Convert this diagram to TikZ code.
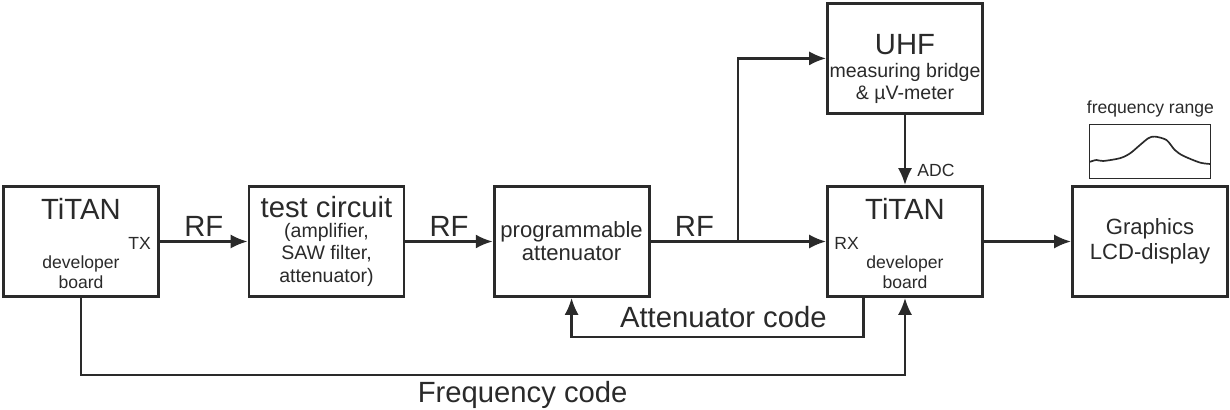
\documentclass[tikz,border=0pt]{standalone}
\usepackage{fontspec}
\setmainfont{Liberation Sans}
\usetikzlibrary{arrows.meta, positioning, calc}
\definecolor{Ink}{HTML}{2A2A2A}

\begin{document}
\begin{tikzpicture}[
  font=\fontsize{15.7}{16.3}\selectfont, text=Ink,
  block/.style={draw=Ink, line width=2.1pt, align=center, minimum width=3.875cm, minimum height=2.75cm, inner sep=0pt},
  bigtxt/.style={font=\fontsize{20.8}{24}\selectfont, inner sep=0pt},
  midtxt/.style={font=\fontsize{13.9}{16}\selectfont, align=center, inner sep=0pt},
  smalltxt/.style={font=\fontsize{12.5}{14.2}\selectfont, align=center, inner sep=0pt},
  arrow/.style={-{Latex[length=12pt, width=10pt]}, line width=1.6pt, draw=Ink},
  wire/.style={line width=1.6pt, draw=Ink},
  rangebox/.style={draw=Ink, line width=0.7pt, minimum width=3.025cm, minimum height=1.35cm, inner sep=0pt},
  curve/.style={draw=Ink, line width=1.2pt, line join=round}
]
\useasboundingbox (0,0) rectangle (30.75,10.25);

% blocks
\node[block] (tx) at (2.025,4.2125) {};
\node[block] (test) at (8.1625,4.2125) {};
\node[block] (atten) at (14.29,4.2125) {programmable\\attenuator};
\node[block] (uhf) at (22.625,8.79) {};
\node[block] (rx) at (22.625,4.2125) {};
\node[block, font=\fontsize{15.7}{17.8}\selectfont] (lcd) at (28.75,4.2125) {Graphics\\LCD-display};

% texts in the blocks
\node[bigtxt] (txname) at ([yshift=-0.6cm]tx.north) {TiTAN};
\node[smalltxt, anchor=east] (txport) at ([xshift=-0.22cm, yshift=-0.04cm]tx.east) {TX};
\node[smalltxt] (txsub) at ([yshift=-0.76cm]tx.center) {developer\\board};

\node[bigtxt] (testname) at ([yshift=0.86cm]test.center) {test circuit};
\node[midtxt] (testsub) at ([yshift=-0.33cm]test.center) {(amplifier,\\SAW filter,\\attenuator)};

\node[bigtxt] (uhfname) at ([yshift=0.34cm]uhf.center) {UHF};
\node[midtxt, font=\fontsize{13.9}{15.6}\selectfont] (uhfsub) at ([yshift=-0.62cm]uhf.center) {measuring bridge\\\& µV-meter};

\node[bigtxt] (rxname) at ([yshift=-0.6cm]rx.north) {TiTAN};
\node[smalltxt, anchor=west] (rxport) at ([xshift=0.2cm, yshift=-0.04cm]rx.west) {RX};
\node[smalltxt] (rxsub) at ([yshift=-0.76cm]rx.center) {developer\\board};

% frequency range sketch
\node[rangebox] (range) at (28.76,6.475) {};
\node[smalltxt, above=0.15cm of range] (rangelbl) {frequency range};
\draw[curve, shift={(range.center)}] plot[smooth, tension=0.5] coordinates {(-1.51,-0.27) (-1.35,-0.225) (-1.18,-0.25) (-0.76,-0.18) (-0.51,-0.06) (-0.26,0.15) (-0.05,0.32) (0.11,0.36) (0.4,0.275) (0.61,0.025) (0.82,-0.12) (1.24,-0.29) (1.51,-0.325)};

% signal path
\coordinate (br) at ($(atten.east)!0.5!(rx.west)$);
\draw[arrow] (tx) -- node[above=3pt, bigtxt] (rf1) {RF} (test);
\draw[arrow] (test) -- node[above=3pt, bigtxt] (rf2) {RF} (atten);
\draw[wire] (atten) -- node[above=3pt, bigtxt] (rf3) {RF} (br);
\draw[arrow] (br) -- (rx);
\draw[arrow] (br) |- (uhf);
\draw[arrow] (uhf) -- node[right=8pt, pos=0.79, smalltxt] (adc) {ADC} (rx);
\draw[arrow] (rx) -- (lcd);

% control loops
\draw[arrow] ([xshift=-1.04cm]rx.south) -- ++(0,-0.975) -| node[above=5.5pt, pos=0.24, bigtxt] (attcode) {Attenuator code} (atten.south);
\draw[arrow] (tx.south) -- ++(0,-1.925) -| node[below=4pt, pos=0.268, bigtxt] (freqcode) {Frequency code} (rx.south);
\end{tikzpicture}
\end{document}
